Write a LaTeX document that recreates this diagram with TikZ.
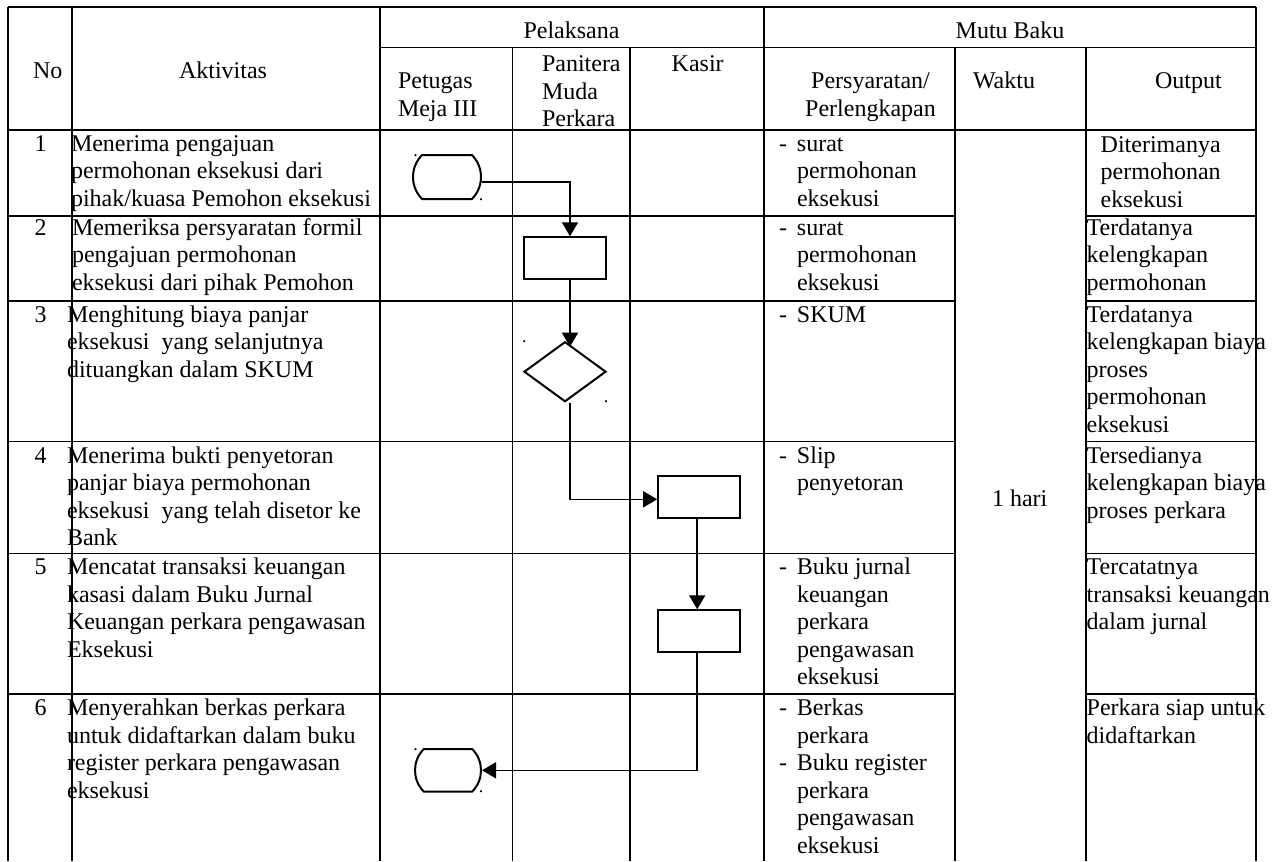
\documentclass[tikz,border=0pt]{standalone}
\usepackage{fontspec}
\setmainfont{Liberation Serif}
\usetikzlibrary{arrows.meta,shapes.geometric,shapes.misc,calc}
\newcommand{\dsh}{\makebox[0pt][r]{-\hspace{5pt}}}
\begin{document}
\begin{tikzpicture}[x=0.5pt,y=-0.5pt,
  grid/.style={line width=0.75pt},
  txt/.style={inner sep=0pt, outer sep=0pt, anchor=north west, align=left, font=\fontsize{12}{13.75}\selectfont},
  ctxt/.style={txt, anchor=north, align=center},
  term/.style={draw, line width=1pt, rounded rectangle, rounded rectangle arc length=90, minimum width=34pt, minimum height=22pt, inner sep=0pt},
  proc/.style={draw, line width=1pt, rectangle, inner sep=0pt, minimum width=41pt, minimum height=21pt},
  dec/.style={draw, line width=1pt, diamond, inner sep=0pt, minimum width=41pt, minimum height=30pt},
  conn/.style={line width=0.8pt, -{Triangle[length=7pt,width=8pt]}},
  dotmark/.style={inner sep=0pt, font=\fontsize{9}{9}\selectfont, anchor=base}
]
\fill[white] (0,0) rectangle (1286,861);

% ---------- table grid ----------
\draw[grid] (8,7) -- (1256,7);
\draw[grid] (380,47.7) -- (1256,47.7);
\draw[grid] (8,130) -- (1256,130);
\foreach \yy in {216,301,441.7,553.7,694}{
  \draw[grid] (8,\yy) -- (955,\yy);
  \draw[grid] (1086,\yy) -- (1256,\yy);
}
\foreach \xx in {8,72,380,764,1256}{
  \draw[grid] (\xx,7) -- (\xx,861);
}
\foreach \xx in {512.7,630,955,1086}{
  \draw[grid] (\xx,47.7) -- (\xx,861);
}

% ---------- header ----------
\node[txt] (hNo) at (33,58.75) {\strut No};
\node[ctxt] (hAkt) at (223,58.75) {\strut Aktivitas};
\node[ctxt] (hPel) at (571.5,18.75) {\strut Pelaksana};
\node[ctxt] (hMutu) at (1010,18.75) {\strut Mutu Baku};
\node[txt] (hPet) at (398,69.25) {\strut Petugas\\Meja III};
\node[txt] (hPan) at (542,52.45) {\strut Panitera\\Muda\\Perkara};
\node[txt] (hKas) at (671.7,52.45) {\strut Kasir};
\node[ctxt] (hPers) at (870.5,69.25) {\strut Persyaratan/\\Perlengkapan};
\node[txt] (hWak) at (973,69.25) {\strut Waktu};
\node[txt] (hOut) at (1155,69.25) {\strut Output};

% ---------- numbers ----------
\node[ctxt] (n1) at (40.5,131.75) {\strut 1};
\node[ctxt] (n2) at (40.5,215.75) {\strut 2};
\node[ctxt] (n3) at (40.5,302.75) {\strut 3};
\node[ctxt] (n4) at (40.5,443.75) {\strut 4};
\node[ctxt] (n5) at (40.5,555.45) {\strut 5};
\node[ctxt] (n6) at (40.5,696.25) {\strut 6};

% ---------- aktivitas ----------
\node[txt] (a1) at (71,131.75) {\strut Menerima pengajuan\\permohonan eksekusi dari\\pihak/kuasa Pemohon eksekusi};
\node[txt] (a2) at (72,215.75) {\strut Memeriksa persyaratan formil\\pengajuan permohonan\\eksekusi dari pihak Pemohon};
\node[txt] (a3) at (67,302.75) {\strut Menghitung biaya panjar\\eksekusi~ yang selanjutnya\\dituangkan dalam SKUM};
\node[txt] (a4) at (67,443.75) {\strut Menerima bukti penyetoran\\panjar biaya permohonan\\eksekusi~ yang telah disetor ke\\Bank};
\node[txt] (a5) at (67,555.45) {\strut Mencatat transaksi keuangan\\kasasi dalam Buku Jurnal\\Keuangan perkara pengawasan\\Eksekusi};
\node[txt] (a6) at (67,696.25) {\strut Menyerahkan berkas perkara\\untuk didaftarkan dalam buku\\register perkara pengawasan\\eksekusi};

% ---------- persyaratan ----------
\node[txt] (p1) at (797,131.75) {\strut\dsh surat\\permohonan\\eksekusi};
\node[txt] (p2) at (797,215.75) {\strut\dsh surat\\permohonan\\eksekusi};
\node[txt] (p3) at (797,302.75) {\strut\dsh SKUM};
\node[txt] (p4) at (797,443.75) {\strut\dsh Slip\\penyetoran};
\node[txt] (p5) at (797,555.45) {\strut\dsh Buku jurnal\\keuangan\\perkara\\pengawasan\\eksekusi};
\node[txt] (p6) at (797,696.25) {\strut\dsh Berkas\\perkara\\\dsh Buku register\\perkara\\pengawasan\\eksekusi};

% ---------- waktu ----------
\node[ctxt] (w1) at (1019.7,486.75) {\strut 1 hari};

% ---------- output ----------
\node[txt] (o1) at (1100.7,132.75) {\strut Diterimanya\\permohonan\\eksekusi};
\node[txt] (o2) at (1086.7,215.75) {\strut Terdatanya\\kelengkapan\\permohonan};
\node[txt] (o3) at (1086.7,302.75) {\strut Terdatanya\\kelengkapan biaya\\proses\\permohonan\\eksekusi};
\node[txt] (o4) at (1086.7,443.75) {\strut Tersedianya\\kelengkapan biaya\\proses perkara};
\node[txt] (o5) at (1086.7,555.45) {\strut Tercatatnya\\transaksi keuangan\\dalam jurnal};
\node[txt] (o6) at (1086.7,696.25) {\strut Perkara siap untuk\\didaftarkan};

% ---------- flow shapes ----------
\node[term] (t1) at (447,177) {};
\node[proc] (b2) at (565,258.3) {};
\node[dec]  (d3) at (565,371.7) {};
\node[proc] (b4) at (699.2,496.5) {};
\node[proc] (b5) at (699.2,631.3) {};
\node[term, minimum width=33pt, minimum height=21.3pt] (t6) at (448,770.3) {};

% small dots
\node[dotmark] (dt1) at (415.7,156) {.};
\node[dotmark] (dt2) at (481,200) {.};
\node[dotmark] (dt3) at (524.3,342.5) {.};
\node[dotmark] (dt4) at (606,402.5) {.};
\node[dotmark] (dt5) at (415.7,750) {.};
\node[dotmark] (dt6) at (481,792.5) {.};

% ---------- connectors ----------
\draw[conn] ($(t1.east)+(0,4.7)$) -| ($(b2.north)+(5,0)$);
\draw[conn] ($(b2.south)+(5,0)$) -- ($(d3.north)+(5,6)$);
\draw[conn] ($(d3.south)+(5,0)$) |- ($(b4.west)+(0,2.8)$);
\draw[conn] ($(b4.south)+(-2,0)$) -- ($(b5.north)+(-2,0)$);
\draw[conn] ($(b5.south)+(-2,0)$) |- (t6.east);
\end{tikzpicture}
\end{document}
